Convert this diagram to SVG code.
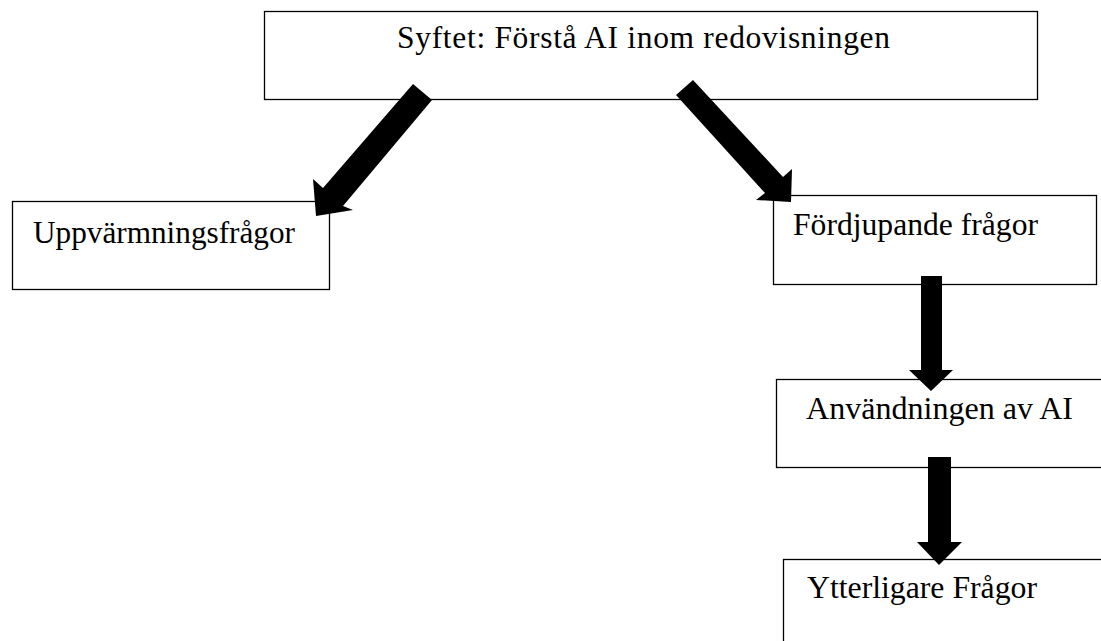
<svg xmlns="http://www.w3.org/2000/svg" width="1101" height="641" viewBox="0 0 1101 641">
<style>
.box{fill:#fff;stroke:#000;stroke-width:1.3}
.lbl{font-family:"Liberation Serif","Times New Roman",serif;font-size:31.5px;fill:#000}
.arr{fill:#000;stroke:none}
</style>
<rect width="1101" height="641" fill="#fff"/>
<g id="node-syfte">
<rect class="box" x="264.5" y="11.5" width="773" height="88"/>
<text class="lbl" x="397" y="48" textLength="493" lengthAdjust="spacing">Syftet: Förstå AI inom redovisningen</text>
</g>
<g id="node-uppvarmning">
<rect class="box" x="12.5" y="201.5" width="317" height="88"/>
<text class="lbl" x="33" y="243" textLength="262" lengthAdjust="spacingAndGlyphs">Uppvärmningsfrågor</text>
</g>
<g id="node-fordjupande">
<rect class="box" x="773.5" y="195.5" width="323" height="89"/>
<text class="lbl" x="793" y="235" textLength="245" lengthAdjust="spacingAndGlyphs">Fördjupande frågor</text>
</g>
<g id="node-anvandning">
<rect class="box" x="776.5" y="379.5" width="330" height="88"/>
<text class="lbl" x="806" y="419" textLength="267" lengthAdjust="spacingAndGlyphs">Användningen av AI</text>
</g>
<g id="node-ytterligare">
<rect class="box" x="783.5" y="559.5" width="330" height="90"/>
<text class="lbl" x="807" y="598" textLength="230" lengthAdjust="spacingAndGlyphs">Ytterligare Frågor</text>
</g>
<g id="connectors">
<polygon class="arr" points="413,84 432,100 343,206 353,210 316,216 313,179 323,188"/>
<polygon class="arr" points="676,95 693,80 783,177 792,169 791,202 756,200 765,193"/>
<polygon class="arr" points="921,276 942,276 942,370 953,370 931,391 909,370 921,370"/>
<polygon class="arr" points="928,457 951,457 951,542 962,542 939,565 917,542 928,542"/>
</g>
</svg>
